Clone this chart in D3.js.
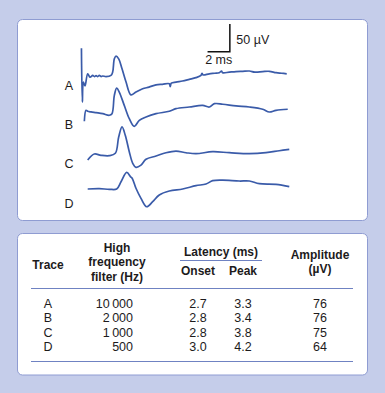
<!DOCTYPE html>
<html>
<head>
<meta charset="utf-8">
<script src="https://cdn.jsdelivr.net/npm/d3@7"></script>
<style>
  body { margin: 0; background: #c5cdea; }
  text { font-family: "Liberation Sans", Arial, sans-serif; fill: #1d1b1c; }
</style>
</head>
<body>
<div id="container"></div>
<script>
// traces: [time ms, amplitude µV]
const traceNames = ["A", "B", "C", "D"]

const traceA = [
  [0.04, 50], [0.12, -47], [0.21, -11], [0.36, -18], [0.60, 4], [0.81, -2], [1.05, 1], [1.20, -1],
  [1.35, 0.5], [1.5, -1], [1.64, 1], [1.8, -1], [1.95, 0], [2.24, -1], [2.69, 1], [2.84, 7],
  [2.99, 31], [3.14, 36], [3.38, 31], [3.68, 13], [4.04, -11], [4.48, -34], [4.93, -29],
  [5.53, -23], [6.1, -20], [6.73, -16], [7.3, -15], [7.92, -14], [8.0, -19], [8.1, -13],
  [8.52, -11], [9.1, -9], [9.71, -6], [10.3, -3], [10.76, 1], [10.85, 5], [10.95, 2],
  [11.5, 4], [12.0, 5], [12.4, 6], [12.6, 9], [12.7, 6], [13.3, 7], [13.9, 8], [14.5, 8.5],
  [15.1, 9], [15.6, 7], [16.3, 8], [16.89, 8.5], [17.5, 6], [18.0, 5], [18.45, 4]
]
const traceB = [
  [0.30, -13.7], [0.45, 6.1], [0.60, 4.3], [0.90, 3.1], [1.35, 1.8], [1.95, 0], [2.54, -2.9],
  [2.78, 0], [2.99, 33], [3.20, 46], [3.43, 39], [3.88, 15], [4.33, -9], [4.78, -23],
  [5.23, -12], [5.83, -6], [6.73, 0], [7.92, 4.3], [8.52, 9], [9.71, 12], [10.91, 15],
  [11.51, 12], [11.96, 18], [12.71, 17], [13.9, 14], [15.1, 12], [16.3, 8], [16.89, 3],
  [17.49, 6], [18.54, 8]
]
const traceC = [
  [0.60, -15.7], [1.19, -4.9], [1.79, -7.2], [2.54, -7.9], [3.08, -3.6], [3.38, 26], [3.68, 44],
  [3.97, 29], [4.33, -0.7], [4.64, -21.7], [4.93, -29], [5.38, -25], [5.83, -14.4], [6.73, -8.5],
  [7.62, -2.5], [8.52, 0.5], [9.42, -2.5], [10.31, -4.3], [11.81, -0.7], [13.3, -2.5],
  [15.1, -4.3], [16.59, -2.5], [17.78, 1.1], [18.68, 3.6]
]
const traceD = [
  [0.60, 0], [1.64, 0.5], [2.54, -0.5], [3.20, 0], [3.59, 13], [4.10, 30], [4.45, 22], [4.6, 19],
  [4.93, 1.3], [5.38, -16.8], [5.89, -32], [6.43, -23], [7.02, -10.8], [7.92, -3.6], [9.12, 0],
  [10.31, 6], [11.21, 9], [11.81, 15], [12.71, 16], [14.2, 14.4], [15.1, 14.4], [15.99, 9.6],
  [17.49, 8.5], [18.68, 4.2]
]
const traces = [traceA, traceB, traceC, traceD]

// table
const filterHz = [10000, 2000, 1000, 500]
const onsetMs = [2.7, 2.8, 2.8, 3.0]
const peakMs = [3.3, 3.4, 3.8, 4.2]
const amplitudeUV = [76, 76, 75, 64]

const W = 385, H = 393
const traceColor = "#3a5ba9"
const ruleColor = "#6f82c2"

const svg = d3.select("#container")
  .append("svg")
  .attr("width", W)
  .attr("height", H)

// panels
svg.selectAll("rect.panel")
  .data([[17.5, 19.5, 350, 201], [17.5, 233.5, 350, 141.5]])
  .enter()
  .append("rect")
  .attr("class", "panel")
  .attr("x", d => d[0]).attr("y", d => d[1])
  .attr("width", d => d[2]).attr("height", d => d[3])
  .attr("rx", 5)
  .attr("fill", "#fff")
  .attr("stroke", "#8f9cd2")
  .attr("stroke-width", 1)

// scales
const x = d3.scaleLinear().domain([0, 20]).range([81, 81 + 20 * 11.15])
const row = d3.scalePoint().domain(traceNames).range([76, 189])
const labelRow = d3.scalePoint().domain(traceNames).range([85, 203])
const uv = d3.scaleLinear().domain([0, 50]).range([0, -27.7])

const line = d3.line()
  .x(d => x(d[0]))
  .y(d => uv(d[1]))
  .curve(d3.curveCatmullRom.alpha(0.5))

const g = svg.selectAll("g.trace")
  .data(traces)
  .enter()
  .append("g")
  .attr("class", "trace")
  .attr("transform", (d, i) => `translate(0,${row(traceNames[i])})`)

g.append("path")
  .attr("d", line)
  .attr("fill", "none")
  .attr("stroke", traceColor)
  .attr("stroke-width", 1.7)
  .attr("stroke-linejoin", "round")

svg.selectAll("text.lbl")
  .data(traceNames)
  .enter()
  .append("text")
  .attr("class", "lbl")
  .attr("x", 69)
  .attr("y", d => labelRow(d) + 4.5)
  .attr("text-anchor", "middle")
  .style("font-size", "12.5px")
  .text(d => d)

// scale bar: 2 ms x 50 µV
const barT = 13.35, barY = 51.7
svg.append("path")
  .attr("d", `M${x(barT - 2)},${barY}H${x(barT)}V${barY + uv(50)}`)
  .attr("fill", "none")
  .attr("stroke", "#111")
  .attr("stroke-width", 1.5)
svg.append("text")
  .attr("x", x(barT) + 6.5).attr("y", 43.5)
  .style("font-size", "12.5px")
  .text("50 \u00b5V")
svg.append("text")
  .attr("x", x(barT - 1)).attr("y", 63.5)
  .attr("text-anchor", "middle")
  .style("font-size", "12.5px")
  .text("2 ms")

// table
const fmtHz = d3.formatLocale({ decimal: ".", thousands: "\u2009", grouping: [3], currency: ["", ""] }).format(",")
const fmt1 = d3.format(".1f")

const header = [
  { t: "Trace", x: 48, y: 268.5 },
  { t: "High", x: 117, y: 251.5 },
  { t: "frequency", x: 117, y: 266 },
  { t: "filter (Hz)", x: 117, y: 280.5 },
  { t: "Latency (ms)", x: 221, y: 256 },
  { t: "Onset", x: 198, y: 274.5 },
  { t: "Peak", x: 243, y: 274.5 },
  { t: "Amplitude", x: 320, y: 258.5 },
  { t: "(\u00b5V)", x: 320, y: 273 }
]
svg.selectAll("text.hd")
  .data(header)
  .enter()
  .append("text")
  .attr("class", "hd")
  .attr("x", d => d.x).attr("y", d => d.y)
  .attr("text-anchor", "middle")
  .style("font-size", "12px")
  .style("font-weight", "bold")
  .text(d => d.t)

svg.selectAll("line.rule")
  .data([[180, 262, 260.5], [31, 353, 288.5], [31, 353, 361.5]])
  .enter()
  .append("line")
  .attr("class", "rule")
  .attr("x1", d => d[0]).attr("x2", d => d[1])
  .attr("y1", d => d[2]).attr("y2", d => d[2])
  .attr("stroke", ruleColor)
  .attr("stroke-width", 1.2)

const rowY = d3.scalePoint().domain(traceNames).range([307.8, 351.2])
const cols = [
  { x: 48, anchor: "middle", v: i => traceNames[i] },
  { x: 133, anchor: "end", v: i => fmtHz(filterHz[i]) },
  { x: 198, anchor: "middle", v: i => fmt1(onsetMs[i]) },
  { x: 243, anchor: "middle", v: i => fmt1(peakMs[i]) },
  { x: 320, anchor: "middle", v: i => amplitudeUV[i] }
]
const tr = svg.selectAll("g.row")
  .data(traceNames)
  .enter()
  .append("g")
  .attr("class", "row")

cols.forEach(c => {
  tr.append("text")
    .attr("x", c.x)
    .attr("y", d => rowY(d))
    .attr("text-anchor", c.anchor)
    .style("font-size", "12.5px")
    .text((d, i) => c.v(i))
})
</script>
</body>
</html>
